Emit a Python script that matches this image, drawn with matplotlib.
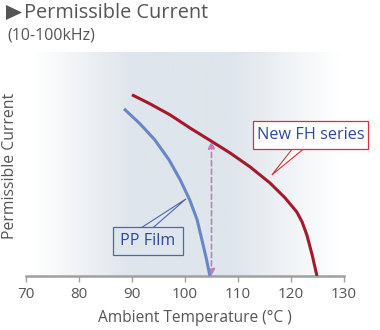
import numpy as np
import matplotlib.pyplot as plt
from matplotlib.patches import Polygon, Rectangle

# curve data (temperature °C, relative current)
fh_temp = [90.0, 93.4, 97.2, 100.9, 104.9, 108.5, 112.3, 116.0, 118.9, 121.1, 122.1, 123.0, 124.0, 124.9]
fh_curr = [80.1, 76.1, 71.2, 65.5, 59.7, 54.4, 48.2, 41.2, 34.5, 28.3, 23.9, 18.1, 9.3, 0.0]

pp_temp = [88.5, 91.5, 94.3, 97.0, 99.1, 100.9, 102.3, 103.2, 104.0, 104.7]
pp_curr = [73.9, 67.3, 60.2, 51.3, 42.5, 33.6, 24.8, 15.9, 8.0, 0.0]

arrow_temp = 105
arrow_top = 59.5
xticks = [70, 80, 90, 100, 110, 120, 130]

txt_gray = "#555555"
red = "#a31a2c"
blue = "#6a86c6"
navy = "#2d4a9c"

fig = plt.figure(figsize=(3.8, 3.3), dpi=100)
ax = fig.add_axes([0.0684, 0.1636, 0.8368, 0.6788])
ax.set_xlim(70, 130)
ax.set_ylim(0, 99)

# background gradient
xs = np.linspace(0, 1, 400)
bg = np.array([223, 229, 236]) / 255.0
w = np.interp(xs, [0.0, 0.02, 0.33, 0.65, 0.99, 1.0], [0, 0, 1, 1, 0, 0])
img = 1 - (1 - bg)[None, None, :] * w[None, :, None]
ax.imshow(img, extent=[0, 1, 0, 1], transform=ax.transAxes, aspect="auto", zorder=0)

ax.plot(pp_temp, pp_curr, color=blue, lw=2.2, zorder=3, solid_capstyle="butt")
ax.plot(fh_temp, fh_curr, color=red, lw=2.2, zorder=3, solid_capstyle="butt")

# double arrow
ax.annotate("", xy=(arrow_temp, arrow_top), xytext=(arrow_temp, 0),
            arrowprops=dict(arrowstyle="<|-|>", color="#c47fb4", lw=1.2,
                            linestyle=(0, (3, 2)), mutation_scale=10,
                            shrinkA=0, shrinkB=0), zorder=2)

# callout: New FH series
ax.add_patch(Polygon([(120.4, 56.6), (116.4, 44.7), (122.6, 56.6)], closed=False,
                     facecolor="white", edgecolor="#d8303a", lw=0.8, zorder=4, clip_on=False))
ax.add_patch(Rectangle((112.8, 56.2), 21.7, 12.4, facecolor="white", edgecolor="#d8303a",
                       lw=0.9, zorder=5, clip_on=False))
ax.text(123.65, 62.4, "New FH series", color=navy, fontsize=11.7, family="Open Sans",
        ha="center", va="center", zorder=6, clip_on=False)

# callout: PP Film
ax.add_patch(Polygon([(91.8, 21.4), (100.2, 34.1), (94.0, 21.4)], closed=False,
                     facecolor="#dfe5ec", edgecolor="#4d66ad", lw=0.8, zorder=4))
ax.add_patch(Rectangle((86.4, 9.3), 13.2, 12.4, facecolor="#dfe5ec", edgecolor="#4d66ad",
                       lw=0.9, zorder=5))
ax.text(93.0, 15.5, "PP Film", color=navy, fontsize=11.6, family="Open Sans",
        ha="center", va="center", zorder=6)

for s in ["top", "right", "left"]:
    ax.spines[s].set_visible(False)
ax.spines["bottom"].set_color("#a0a0a0")
ax.spines["bottom"].set_linewidth(1.8)
ax.set_yticks([])
ax.set_xticks(xticks)
ax.tick_params(axis="x", colors="#a0a0a0", length=4, width=1, labelcolor=txt_gray,
               labelsize=11, pad=4)
for lab in ax.get_xticklabels():
    lab.set_family("Open Sans")

fig.text(195 / 380, 1 - 318 / 330, "Ambient Temperature (°C )", color=txt_gray, fontsize=11.2,
         family="Open Sans", ha="center", va="center")
fig.text(0.027, 0.498, "Permissible Current", rotation=90, color=txt_gray, fontsize=11.3,
         family="Open Sans", ha="center", va="center")

# title
tri = Polygon(np.array([(6, 330 - 5), (22, 330 - 12.5), (6, 330 - 20)]) / 100.0, closed=True,
              facecolor="#555555", edgecolor="none", transform=fig.dpi_scale_trans)
fig.patches.append(tri)
fig.text(0.062, 0.962, "Permissible Current", color=txt_gray, fontsize=14.3,
         family="Open Sans", ha="left", va="center")
fig.text(0.019, 0.892, "(10-100kHz)", color=txt_gray, fontsize=11.5,
         family="Open Sans", ha="left", va="center")

fig.savefig("out.png", dpi=100)
